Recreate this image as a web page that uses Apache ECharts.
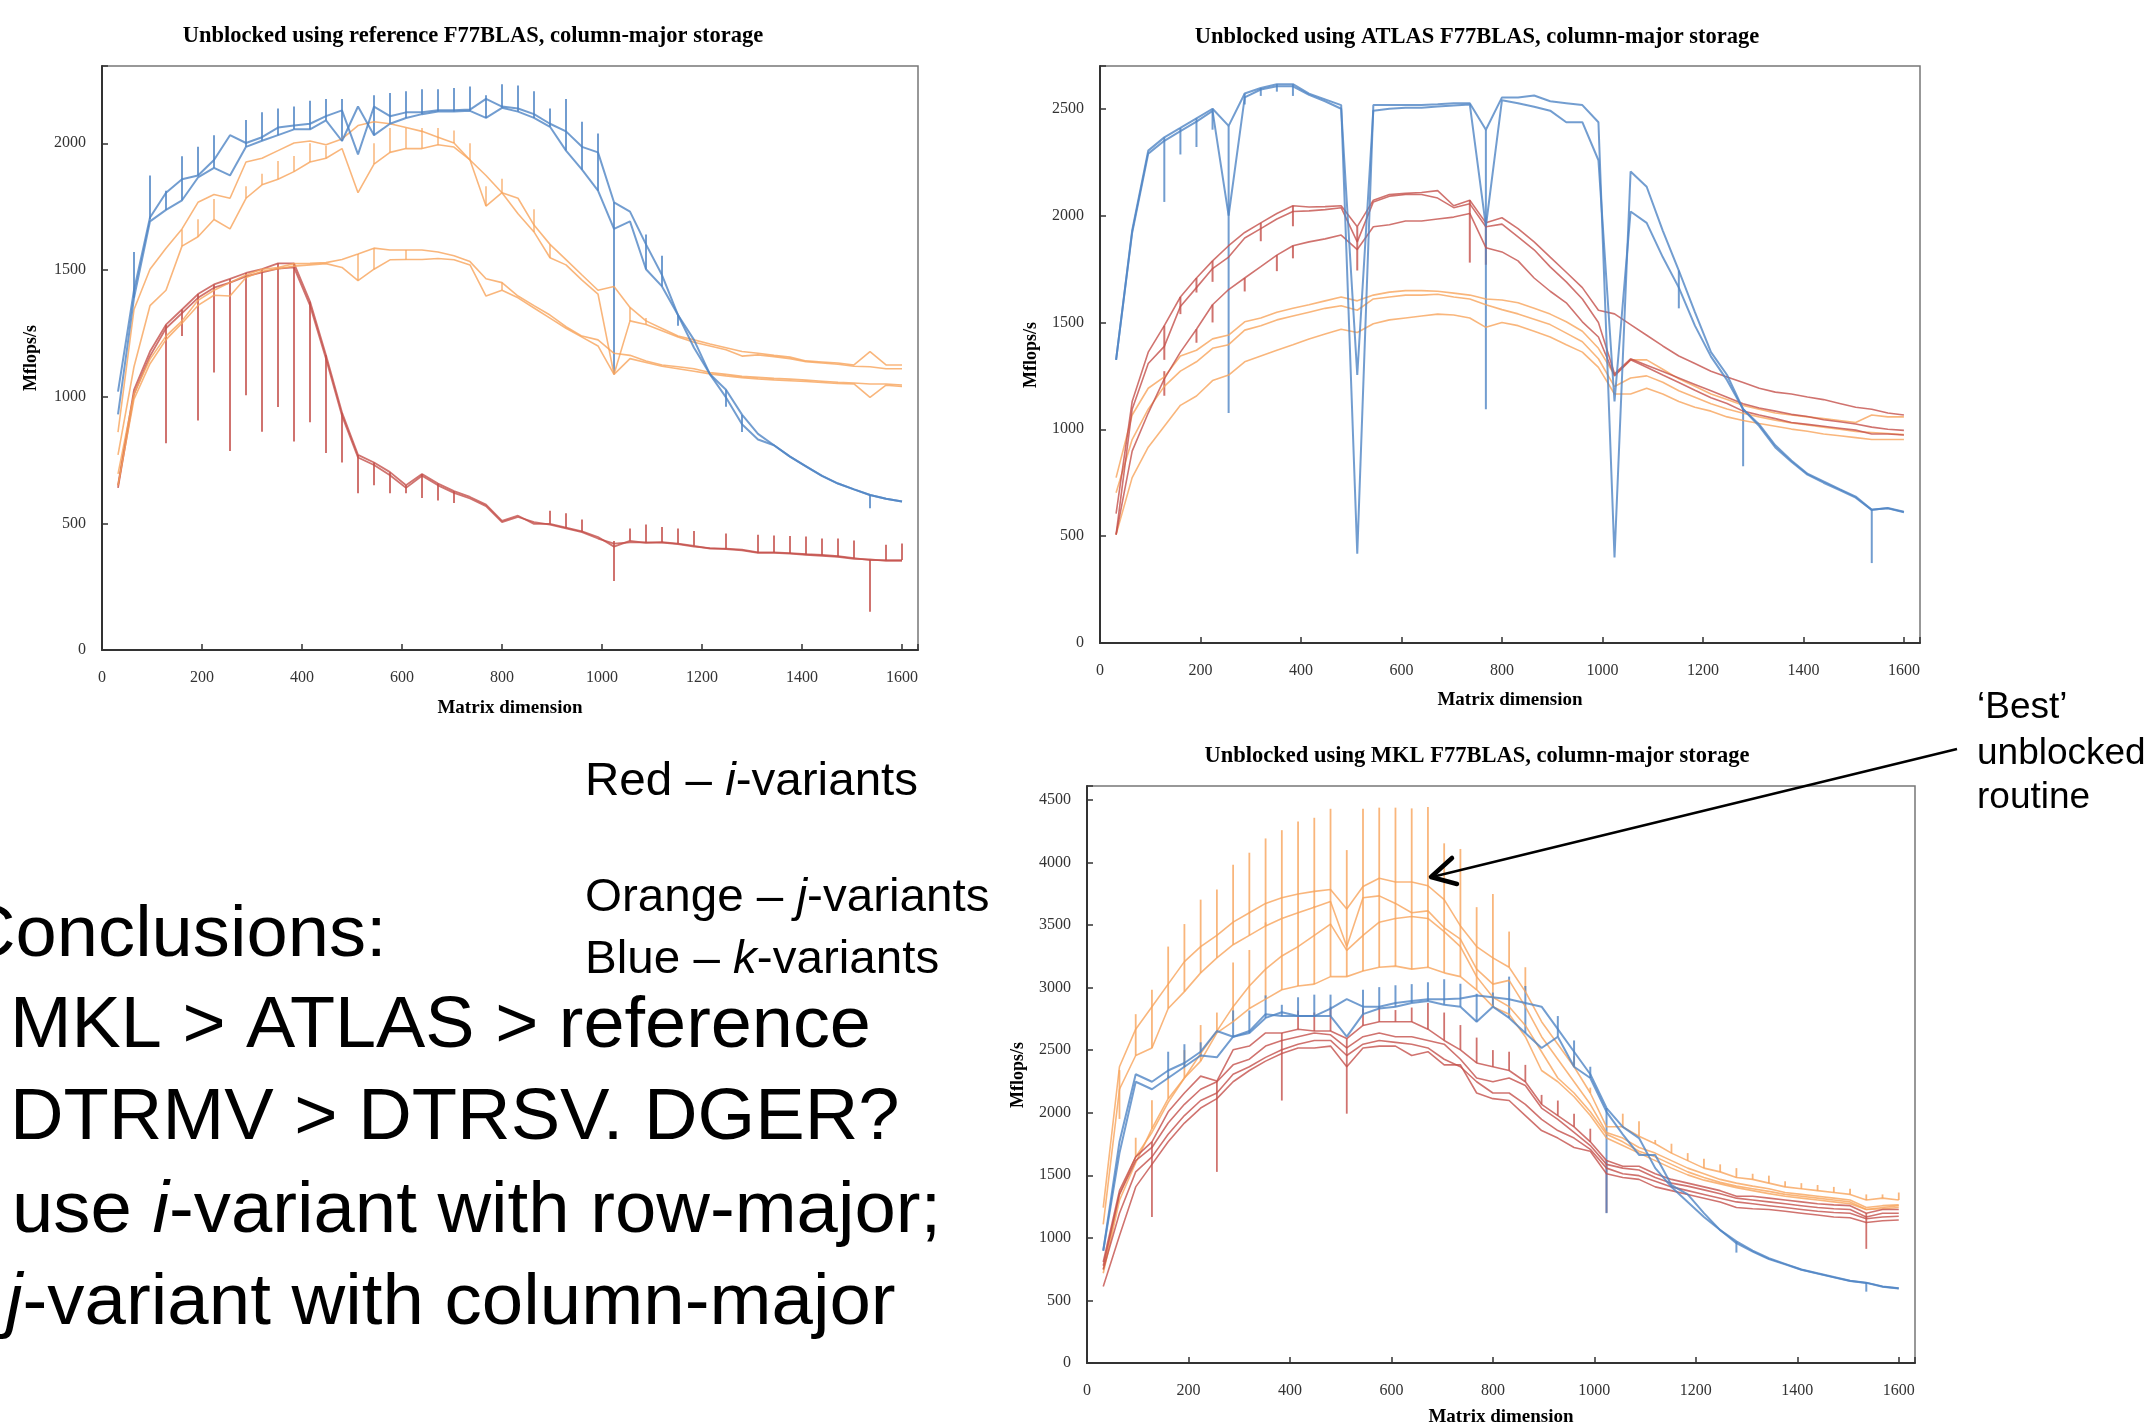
<!DOCTYPE html>
<html><head><meta charset="utf-8">
<script src="https://cdn.jsdelivr.net/npm/echarts@6/dist/echarts.min.js"></script>
<style>html,body{margin:0;padding:0;background:#fff;}#c{width:2152px;height:1423px;}</style>
</head><body><div id="c"></div>
<script>
// Matrix dimensions (x positions of measurements)
const dims = [32,64,96,128,160,192,224,256,288,320,352,384,416,448,480,512,544,576,608,640,672,704,736,768,800,832,864,896,928,960,992,1024,1056,1088,1120,1152,1184,1216,1248,1280,1312,1344,1376,1408,1440,1472,1504,1536,1568,1600];

// ---- Chart 1: reference F77BLAS ----
const ref_k1 = [1020,1420,1707,1805,1858,1873,1934,2032,2001,2024,2062,2070,2077,2107,2130,1956,2145,2107,2122,2122,2130,2130,2133,2175,2145,2137,2115,2077,2047,1986,1964,1767,1730,1601,1480,1322,1224,1088,1027,929,853,808,763,725,687,657,634,612,597,586];
const ref_k2 = [930,1390,1692,1737,1775,1865,1903,1873,1986,2010,2032,2055,2055,2090,2009,2145,2032,2077,2100,2115,2125,2125,2128,2100,2140,2125,2100,2065,1971,1896,1813,1662,1692,1503,1435,1322,1193,1088,997,891,831,808,763,725,687,657,634,612,597,586];
const ref_j1 = [860,1344,1503,1586,1662,1767,1798,1783,1926,1941,1971,2001,2009,1994,2017,2070,2085,2077,2062,2047,2024,2001,1934,1873,1805,1783,1677,1601,1541,1480,1420,1435,1352,1299,1269,1239,1224,1208,1193,1178,1171,1163,1156,1141,1137,1133,1125,1178,1125,1125];
const ref_j2 = [770,1118,1359,1420,1594,1631,1699,1662,1783,1836,1858,1888,1926,1941,1979,1805,1918,1964,1979,1979,1994,1985,1934,1752,1805,1722,1650,1548,1520,1460,1405,1088,1299,1285,1260,1235,1215,1200,1185,1160,1165,1158,1150,1138,1133,1128,1120,1118,1110,1110];
const ref_j3 = [695,1012,1148,1239,1299,1380,1420,1450,1480,1503,1510,1525,1526,1529,1541,1563,1586,1579,1579,1579,1571,1556,1533,1465,1450,1397,1359,1322,1276,1239,1224,1171,1163,1141,1125,1118,1110,1095,1088,1080,1076,1072,1069,1065,1061,1057,1054,1050,1050,1046];
const ref_j4 = [650,990,1130,1225,1290,1360,1400,1397,1470,1495,1505,1515,1520,1525,1510,1458,1503,1540,1541,1541,1545,1540,1520,1397,1420,1390,1350,1310,1270,1235,1200,1088,1150,1135,1120,1110,1100,1090,1082,1075,1070,1066,1063,1060,1056,1052,1050,997,1045,1040];
const ref_i1 = [650,1027,1178,1284,1344,1405,1443,1465,1488,1503,1526,1526,1375,1163,937,770,740,702,650,695,657,627,604,574,510,530,498,498,483,468,446,408,431,423,426,420,411,400,400,396,385,385,382,378,375,370,363,355,355,355];
const ref_i2 = [640,1010,1160,1270,1330,1390,1430,1450,1475,1490,1505,1510,1360,1150,925,760,730,690,640,688,650,620,598,568,505,525,505,495,480,465,440,420,425,425,424,418,408,402,398,393,383,383,380,376,372,368,360,358,352,352];
const ref_k_spikes = [[64,1390,1571],[96,1700,1873],[128,1737,1813],[160,1775,1949],[192,1873,1986],[224,1903,2032],[288,1986,2092],[320,2010,2122],[352,2032,2137],[384,2055,2145],[416,2055,2168],[448,2090,2175],[480,2009,2175],[544,2032,2190],[576,2077,2198],[608,2100,2205],[640,2115,2213],[672,2125,2213],[704,2125,2218],[736,2128,2224],[768,2100,2190],[800,2140,2233],[832,2125,2228],[864,2100,2205],[896,2065,2137],[928,1971,2175],[960,1896,2085],[992,1813,2039],[1024,1088,1767],[1088,1503,1640],[1120,1435,1556],[1152,1280,1322],[1248,960,1027],[1280,860,929],[1536,559,612]];
const ref_i_spikes = [[128,816,1284],[160,1239,1344],[192,906,1405],[224,1095,1443],[256,785,1465],[288,1005,1488],[320,861,1503],[352,959,1526],[384,823,1526],[416,899,1375],[448,778,1163],[480,740,937],[512,619,770],[544,650,740],[576,619,702],[608,619,650],[640,600,695],[672,590,657],[704,580,627],[896,498,550],[928,483,540],[960,468,515],[1024,272,430],[1056,431,480],[1088,423,495],[1120,426,485],[1152,420,480],[1184,411,470],[1248,400,460],[1312,385,455],[1344,385,452],[1376,382,450],[1408,378,448],[1440,375,440],[1472,370,440],[1504,363,432],[1536,151,355],[1568,355,415],[1600,355,420]];
const ref_j_spikes = [[160,1594,1660],[192,1631,1700],[224,1699,1780],[288,1783,1830],[320,1836,1880],[352,1858,1930],[384,1888,1950],[416,1926,2000],[448,1941,1990],[544,1918,2000],[576,1964,2060],[608,1979,2060],[640,1979,2060],[672,1994,2060],[704,2001,2050],[736,1934,2000],[768,1752,1830],[800,1805,1860],[864,1650,1740],[896,1548,1600],[512,1458,1563],[544,1503,1586],[608,1541,1579],[800,1420,1450],[1056,1299,1352],[1088,1285,1310]];

// ---- Chart 2: ATLAS F77BLAS ----
const atl_k1 = [1325,1930,2304,2366,2410,2455,2500,2420,2571,2597,2615,2615,2571,2544,2517,418,2517,2517,2517,2517,2521,2526,2526,2402,2553,2553,2562,2535,2526,2517,2437,400,2206,2135,1930,1743,1548,1361,1254,1094,1023,925,854,792,756,720,685,623,632,614];
const atl_k2 = [1325,1920,2290,2350,2395,2440,2490,2000,2553,2590,2605,2605,2565,2535,2500,1254,2491,2500,2505,2505,2510,2515,2520,1950,2540,2526,2509,2491,2437,2437,2259,1130,2019,1966,1806,1663,1485,1340,1230,1094,1015,915,848,788,750,716,680,623,630,612];
const atl_i1 = [605,1130,1361,1485,1619,1708,1788,1859,1921,1966,2010,2046,2040,2042,2046,1948,2072,2099,2104,2108,2117,2046,2072,1966,1990,1939,1877,1806,1735,1663,1557,1540,1490,1440,1390,1343,1308,1272,1245,1219,1192,1174,1165,1151,1139,1121,1103,1094,1076,1067];
const atl_i2 = [507,1094,1308,1388,1575,1663,1752,1806,1895,1939,1984,2019,2022,2028,2037,1877,2064,2091,2099,2099,2082,2037,2055,1948,1960,1900,1840,1760,1690,1610,1500,1260,1330,1300,1270,1240,1210,1180,1150,1120,1100,1085,1070,1060,1045,1035,1025,1010,1000,995];
const atl_i3 = [507,898,1076,1236,1361,1468,1583,1654,1708,1761,1815,1859,1877,1891,1909,1841,1948,1957,1975,1975,1984,1993,2010,1850,1830,1788,1708,1646,1592,1503,1432,1250,1325,1290,1254,1219,1183,1148,1121,1085,1067,1050,1032,1023,1014,1005,996,978,978,973];
const atl_j1 = [774,1067,1192,1245,1343,1370,1423,1441,1503,1521,1548,1566,1583,1601,1619,1601,1628,1642,1649,1649,1646,1637,1628,1610,1605,1592,1566,1539,1503,1459,1379,1254,1325,1325,1281,1236,1201,1165,1139,1112,1094,1076,1067,1058,1050,1041,1032,1067,1058,1058];
const atl_j2 = [703,952,1094,1201,1272,1316,1379,1396,1464,1485,1512,1530,1548,1566,1578,1557,1610,1619,1628,1628,1632,1619,1610,1583,1560,1540,1515,1490,1450,1410,1330,1200,1240,1250,1220,1180,1150,1120,1095,1075,1058,1042,1030,1020,1010,1000,990,985,980,975];
const atl_j3 = [507,774,916,1014,1112,1156,1228,1254,1316,1343,1370,1396,1423,1446,1468,1453,1494,1512,1521,1530,1539,1535,1521,1477,1500,1485,1459,1432,1396,1361,1290,1165,1165,1192,1165,1130,1103,1085,1058,1041,1027,1014,1001,991,978,970,961,952,952,952];
const atl_k_spikes = [[128,2064,2366],[160,2286,2410],[192,2321,2455],[224,2402,2500],[256,1076,2420],[288,2520,2571],[320,2560,2597],[352,2580,2615],[384,2560,2615],[768,1094,2402],[1152,1566,1743],[1280,827,1094],[1536,374,623]];
const atl_i_spikes = [[128,1325,1485],[128,1157,1272],[160,1539,1619],[192,1405,1468],[192,1640,1708],[224,1690,1788],[224,1500,1583],[288,1645,1708],[320,1880,1966],[352,1740,1815],[384,1950,2046],[384,1800,1859],[512,1743,1948],[736,1780,2072],[768,1770,1966]];

// ---- Chart 3: MKL F77BLAS ----
const mkl_j1 = [1242,2367,2667,2847,3027,3207,3327,3417,3522,3597,3672,3717,3747,3768,3783,3627,3807,3873,3843,3843,3813,3702,3492,3327,3237,3162,2967,2727,2547,2367,2157,1887,1887,1812,1752,1677,1617,1557,1527,1482,1467,1437,1407,1392,1377,1362,1347,1302,1317,1302];
const mkl_j2 = [1107,2187,2457,2517,2832,2967,3117,3237,3342,3417,3492,3552,3597,3642,3687,3327,3717,3732,3672,3597,3612,3477,3387,3147,3027,3057,2847,2607,2427,2247,2067,1842,1797,1722,1677,1617,1557,1512,1467,1437,1413,1392,1362,1347,1332,1317,1302,1242,1257,1263];
const mkl_j3 = [747,1347,1647,1842,2082,2277,2472,2652,2847,3012,3147,3252,3327,3417,3507,3297,3417,3522,3552,3567,3552,3447,3327,3087,2922,2847,2697,2487,2277,2157,2007,1827,1767,1692,1647,1587,1527,1482,1443,1413,1392,1371,1347,1332,1317,1302,1287,1227,1242,1257];
const mkl_j4 = [717,1300,1600,1872,2112,2277,2412,2637,2727,2832,2907,2982,3012,3027,3087,3087,3132,3162,3171,3147,3162,3117,3087,2982,2847,2787,2607,2337,2247,2127,1977,1797,1737,1677,1617,1557,1503,1461,1431,1401,1377,1353,1332,1317,1302,1287,1272,1227,1233,1242];
const mkl_k1 = [897,1767,2307,2247,2337,2397,2487,2652,2607,2637,2757,2802,2772,2772,2832,2907,2847,2847,2877,2892,2907,2907,2913,2937,2922,2907,2877,2847,2667,2487,2307,2037,1887,1797,1557,1407,1287,1167,1062,972,897,837,792,747,717,687,657,642,612,597];
const mkl_k2 = [897,1677,2247,2187,2277,2367,2457,2442,2607,2652,2787,2772,2772,2772,2772,2607,2787,2832,2847,2877,2892,2862,2847,2727,2847,2757,2637,2517,2607,2367,2277,2007,1827,1662,1662,1422,1347,1197,1062,957,890,830,788,745,714,684,655,640,610,595];
const mkl_i1 = [807,1377,1647,1767,2007,2157,2292,2253,2502,2532,2637,2637,2667,2652,2652,2592,2697,2727,2727,2727,2667,2577,2502,2397,2367,2337,2247,2067,1977,1887,1767,1617,1572,1572,1512,1467,1437,1407,1377,1332,1332,1317,1302,1287,1272,1263,1257,1197,1227,1227];
const mkl_i2 = [777,1347,1617,1722,1917,2067,2187,2247,2382,2427,2532,2577,2607,2637,2622,2517,2607,2637,2607,2607,2577,2547,2427,2277,2247,2277,2217,2037,1947,1842,1737,1587,1557,1542,1482,1437,1413,1383,1353,1317,1302,1287,1272,1257,1242,1233,1227,1167,1197,1197];
const mkl_i3 = [747,1197,1527,1647,1827,1977,2097,2157,2307,2367,2442,2502,2547,2577,2577,2457,2547,2577,2562,2547,2517,2427,2367,2247,2157,2157,2067,1947,1857,1797,1707,1557,1512,1497,1452,1407,1377,1347,1317,1287,1272,1257,1242,1227,1212,1203,1197,1152,1167,1173];
const mkl_i4 = [612,1017,1407,1587,1767,1917,2037,2112,2247,2337,2412,2472,2517,2517,2532,2367,2517,2532,2532,2457,2487,2382,2382,2157,2112,2097,1977,1857,1797,1722,1692,1512,1482,1467,1407,1377,1347,1317,1287,1242,1233,1227,1212,1197,1182,1167,1161,1122,1137,1143];
const mkl_j_spikes = [[64,1950,2340],[96,2457,2787],[128,2517,2982],[160,2832,3327],[192,2967,3507],[224,3117,3702],[256,3237,3783],[288,3342,3981],[320,3417,4077],[352,3492,4191],[384,3552,4257],[416,3597,4326],[448,3642,4356],[480,3087,4428],[512,3087,4098],[544,3132,4428],[576,3162,4437],[608,3171,4437],[640,3147,4431],[672,3162,4443],[704,3117,4152],[736,3087,4107],[768,2982,3642],[800,2847,3747],[96,1647,1800],[128,1872,2100],[160,2112,2300],[192,2277,2500],[224,2412,2700],[256,2637,2800],[288,2727,3200],[320,2832,3300],[352,2907,3520],[384,2982,3550],[416,3012,3600],[448,3027,3650],[832,3162,3447],[864,2967,3162],[960,2367,2450],[992,2157,2200],[1056,1887,1992],[1088,1812,1932],[1120,1752,1782],[1152,1677,1752],[1184,1617,1677],[1216,1557,1632],[1248,1527,1587],[1280,1482,1557],[1312,1467,1512],[1344,1437,1497],[1376,1407,1452],[1408,1392,1437],[1440,1377,1422],[1472,1362,1407],[1504,1347,1392],[1536,1302,1347],[1568,1317,1347],[1600,1302,1362]];
const mkl_k_spikes = [[160,2277,2487],[192,2367,2547],[224,2457,2562],[288,2607,2817],[320,2637,2817],[352,2757,2937],[384,2772,2862],[416,2772,2922],[448,2772,2943],[480,2772,2943],[544,2787,2982],[576,2832,3003],[608,2847,3018],[640,2877,3027],[672,2892,3042],[704,2862,3066],[736,2847,3030],[768,2727,2950],[800,2847,2960],[832,2757,3087],[864,2637,3012],[928,2607,2772],[960,2367,2577],[992,2277,2367],[1024,1197,2037],[1280,882,972],[1536,570,642]];
const mkl_i_spikes = [[128,1167,1767],[256,1527,2253],[384,2097,2637],[512,1992,2592],[416,2667,2817],[448,2652,2800],[480,2652,2847],[544,2697,2832],[576,2727,2850],[608,2727,2820],[640,2727,2840],[672,2667,2877],[704,2577,2800],[736,2502,2700],[768,2397,2600],[800,2367,2500],[832,2337,2487],[864,2247,2382],[896,2067,2142],[928,1977,2097],[960,1887,1992],[992,1767,1872],[1024,1200,1617],[1536,912,1197]];

// Axis tick labels
const xTicks = [0,200,400,600,800,1000,1200,1400,1600];
const yTicks1 = [0,500,1000,1500,2000];
const yTicks2 = [0,500,1000,1500,2000,2500];
const yTicks3 = [0,500,1000,1500,2000,2500,3000,3500,4000,4500];
const titles = ['Unblocked using reference F77BLAS, column-major storage','Unblocked using ATLAS F77BLAS, column-major storage','Unblocked using MKL F77BLAS, column-major storage'];

const BLUE = '#4f84c4', ORANGE = '#f8a45b', RED = '#c4504b';
const SERIF = '"Liberation Serif", "DejaVu Serif", serif';
const SANS = '"Liberation Sans", Arial, sans-serif';

const chart = echarts.init(document.getElementById('c'));

function lineS(vals, color, g, w) {
  return {type:'line', xAxisIndex:g, yAxisIndex:g, data: dims.map((d,i)=>[d, vals[i]]),
    symbol:'none', showSymbol:false, silent:true, animation:false,
    lineStyle:{color:color, width:w||1.6, opacity:0.8}};
}
function spikeS(arr, color, g, w) {
  return {type:'custom', xAxisIndex:g, yAxisIndex:g, data: arr, silent:true, animation:false,
    encode:{x:0, y:[1,2]},
    renderItem: function(params, api){
      const a = api.coord([api.value(0), api.value(1)]);
      const b = api.coord([api.value(0), api.value(2)]);
      return {type:'line', shape:{x1:a[0], y1:a[1], x2:b[0], y2:b[1]},
        style:{stroke: color, lineWidth: w||2, opacity:0.8}};
    }};
}
function xAx(g, ticks) {
  return {type:'value', gridIndex:g, min:0, max:1632, interval:200,
    axisLine:{show:true, onZero:false, lineStyle:{color:'#333', width:2}},
    axisTick:{show:true, inside:true, length:6, lineStyle:{color:'#333', width:1.5}},
    axisLabel:{margin:20, fontFamily:SERIF, fontSize:16, color:'#333',
      formatter: v => ticks.indexOf(v) >= 0 ? String(v) : ''},
    splitLine:{show:false}};
}
function yAx(g, max, ticks) {
  return {type:'value', gridIndex:g, min:0, max:max, interval:500,
    axisLine:{show:true, onZero:false, lineStyle:{color:'#333', width:2}},
    axisTick:{show:true, inside:true, length:6, lineStyle:{color:'#333', width:1.5}},
    axisLabel:{margin:16, fontFamily:SERIF, fontSize:16, color:'#333',
      formatter: v => ticks.indexOf(v) >= 0 ? String(v) : ''},
    splitLine:{show:false}};
}
function txt(x, y, text, opts) {
  opts = opts || {};
  return {type:'text', x:x, y:y, rotation: opts.rot || 0, scaleX: opts.sx || 1, silent:true, z:100,
    style:{text:text, fill:'#000', fontFamily: opts.family || SANS, fontSize: opts.size || 40,
      fontWeight: opts.weight || 'normal', align: opts.align || 'left', verticalAlign:'middle',
      textAlign: opts.align || 'left', textVerticalAlign:'middle',
      rich: opts.rich}};
}
const itRich = (size) => ({it:{fontStyle:'italic', fontSize:size, fontFamily:SANS, fill:'#000'}});

const series = [
  lineS(ref_i1, RED, 0, 1.8), lineS(ref_i2, RED, 0, 1.8), spikeS(ref_i_spikes, RED, 0),
  lineS(ref_j1, ORANGE, 0), lineS(ref_j2, ORANGE, 0), lineS(ref_j3, ORANGE, 0), lineS(ref_j4, ORANGE, 0), spikeS(ref_j_spikes, ORANGE, 0, 1.5),
  lineS(ref_k1, BLUE, 0, 2), lineS(ref_k2, BLUE, 0, 2), spikeS(ref_k_spikes, BLUE, 0),

  lineS(atl_j1, ORANGE, 1), lineS(atl_j2, ORANGE, 1), lineS(atl_j3, ORANGE, 1),
  lineS(atl_i1, RED, 1), lineS(atl_i2, RED, 1), lineS(atl_i3, RED, 1), spikeS(atl_i_spikes, RED, 1),
  lineS(atl_k1, BLUE, 1, 2), lineS(atl_k2, BLUE, 1, 2), spikeS(atl_k_spikes, BLUE, 1),

  lineS(mkl_j1, ORANGE, 2), lineS(mkl_j2, ORANGE, 2), lineS(mkl_j3, ORANGE, 2), lineS(mkl_j4, ORANGE, 2), spikeS(mkl_j_spikes, ORANGE, 2, 1.8),
  lineS(mkl_i1, RED, 2), lineS(mkl_i2, RED, 2), lineS(mkl_i3, RED, 2), lineS(mkl_i4, RED, 2), spikeS(mkl_i_spikes, RED, 2, 1.8),
  lineS(mkl_k1, BLUE, 2, 2), lineS(mkl_k2, BLUE, 2, 2), spikeS(mkl_k_spikes, BLUE, 2)
];

const graphics = [
  txt(473, 36, titles[0], {family:SERIF, size:22.5, weight:'bold', align:'center'}),
  txt(1477, 37, titles[1], {family:SERIF, size:22.5, weight:'bold', align:'center'}),
  txt(1477, 756, titles[2], {family:SERIF, size:22.5, weight:'bold', align:'center'}),
  txt(510, 708, 'Matrix dimension', {family:SERIF, size:19, weight:'bold', align:'center'}),
  txt(1510, 700, 'Matrix dimension', {family:SERIF, size:19, weight:'bold', align:'center'}),
  txt(1501, 1417, 'Matrix dimension', {family:SERIF, size:19, weight:'bold', align:'center'}),
  txt(31, 358, 'Mflops/s', {family:SERIF, size:18, weight:'bold', align:'center', rot:Math.PI/2}),
  txt(1031, 355, 'Mflops/s', {family:SERIF, size:18, weight:'bold', align:'center', rot:Math.PI/2}),
  txt(1018, 1075, 'Mflops/s', {family:SERIF, size:18, weight:'bold', align:'center', rot:Math.PI/2}),

  txt(585, 782, 'Red – {it|i}-variants', {size:47, sx:1.012, rich:itRich(47)}),
  txt(585, 898, 'Orange – {it|j}-variants', {size:47, sx:1.012, rich:itRich(47)}),
  txt(585, 960, 'Blue – {it|k}-variants', {size:47, sx:1.012, rich:itRich(47)}),

  txt(-38, 936, 'Conclusions:', {size:73, sx:1.016}),
  txt(10, 1027, 'MKL > ATLAS > reference', {size:73, sx:1.012}),
  txt(10, 1119, 'DTRMV > DTRSV. DGER?', {size:73, sx:1.016}),
  txt(12, 1212, 'use {it|i}-variant with row-major;', {size:73, sx:1.018, rich:itRich(73)}),
  txt(6, 1304, '{it|j}-variant with column-major', {size:73, sx:1.02, rich:itRich(73)}),

  txt(1977, 708, '‘Best’', {size:37}),
  txt(1977, 754, 'unblocked', {size:37}),
  txt(1977, 798, 'routine', {size:37}),

  {type:'line', silent:true, z:101, shape:{x1:1957, y1:749, x2:1432, y2:877}, style:{stroke:'#000', lineWidth:2.5}},
  {type:'polyline', silent:true, z:101, shape:{points:[[1452,858],[1431,877],[1457,884]]}, style:{stroke:'#000', lineWidth:4.5, fill:null, lineCap:'round', lineJoin:'round'}}
];

chart.setOption({
  animation:false,
  backgroundColor:'#fff',
  grid:[
    {left:102, top:66, width:816, height:584, show:true, borderColor:'#777', borderWidth:1.5, backgroundColor:'transparent'},
    {left:1100, top:66, width:820, height:577, show:true, borderColor:'#777', borderWidth:1.5, backgroundColor:'transparent'},
    {left:1087, top:786, width:828, height:577, show:true, borderColor:'#777', borderWidth:1.5, backgroundColor:'transparent'}
  ],
  xAxis:[xAx(0, xTicks), xAx(1, xTicks), xAx(2, xTicks)],
  yAxis:[yAx(0, 2305, yTicks1), yAx(1, 2700, yTicks2), yAx(2, 4610, yTicks3)],
  series: series,
  graphic: graphics
});
</script>
</body></html>
